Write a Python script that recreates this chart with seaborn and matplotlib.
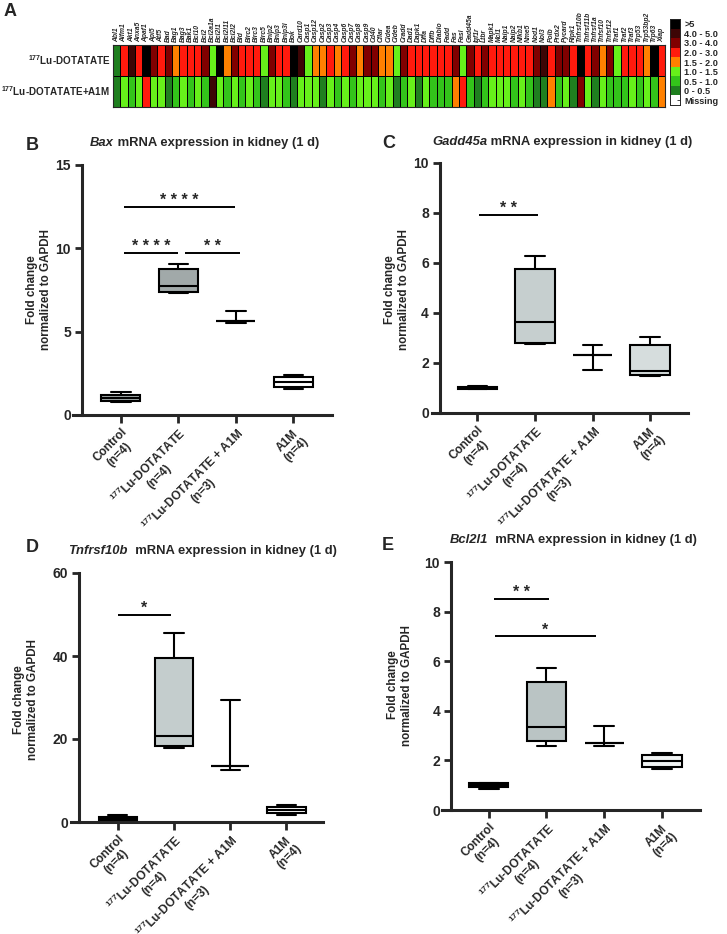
import numpy as np
import pandas as pd
import matplotlib
matplotlib.use("Agg")
import matplotlib.pyplot as plt
from matplotlib.colors import ListedColormap, BoundaryNorm
import seaborn as sns

sns.set_style("white")
plt.rcParams["font.family"] = ["Liberation Sans", "DejaVu Sans"]
plt.rcParams["font.weight"] = "bold"
plt.rcParams["mathtext.fontset"] = "custom"
plt.rcParams["mathtext.rm"] = "Liberation Sans:bold"
plt.rcParams["mathtext.bf"] = "Liberation Sans:bold"
plt.rcParams["mathtext.it"] = "Liberation Sans:bold:italic"

W, H = 727, 934

# ---------------- data: panel A heatmap (binned fold change) ----------------
genes = ["Abl1", "Aifm1", "Akt1", "Anxa5", "Apaf1", "Api5", "Atf5", "Bad", "Bag1", "Bag3",
         "Bak1", "Bcl10", "Bcl2", "Bcl2a1a", "Bcl2l1", "Bcl2l11", "Bcl2l2", "Bid", "Birc2", "Birc3",
         "Birc5", "Bnip2", "Bnip3", "Bnip3l", "Bok", "Card10", "Casp1", "Casp12", "Casp2", "Casp3",
         "Casp4", "Casp6", "Casp7", "Casp8", "Casp9", "Cd40", "Cflar", "Cidea", "Cideb", "Cradd",
         "Dad1", "Dapk1", "Dffa", "Dffb", "Diablo", "Fadd", "Fas", "Fasl", "Gadd45a", "Igf1r",
         "Ltbr", "Mapk1", "Mcl1", "Naip1", "Naip2", "Nfkb1", "Nme5", "Nod1", "Nol3", "Polb",
         "Prdx2", "Pycard", "Ripk1", "Tnfrsf10b", "Tnfrsf11b", "Tnfrsf1a", "Tnfsf10", "Tnfsf12", "Traf1", "Traf2",
         "Traf3", "Trp53", "Trp53bp2", "Trp63", "Xiap"]

lu_fold = [0.3, 2.5, 4.5, 2.5, 6.0, 3.5, 2.5, 3.5, 1.8, 2.5,
           2.5, 2.5, 3.5, 1.2, 6.0, 1.8, 3.5, 2.5, 2.5, 2.5,
           1.2, 3.5, 2.5, 2.5, 6.0, 4.5, 1.2, 1.8, 1.8, 2.5,
           1.8, 2.5, 3.5, 1.8, 3.5, 3.5, 1.8, 1.8, 1.2, 3.5,
           2.5, 2.5, 2.5, 2.5, 2.5, 2.5, 3.5, 1.2, 3.5, 2.5,
           3.5, 2.5, 2.5, 2.5, 2.5, 2.5, 2.5, 3.5, 4.5, 2.5,
           3.5, 3.5, 2.5, 6.0, 2.5, 3.5, 1.8, 3.5, 1.2, 2.5,
           2.5, 2.5, 1.8, 6.0, 2.5]

lu_a1m_fold = [0.3, 1.2, 0.8, 1.2, 2.5, 1.2, 1.2, 0.3, 0.8, 1.2,
               0.8, 1.2, 0.8, 4.5, 1.2, 0.8, 1.2, 0.8, 1.2, 0.8,
               0.3, 1.2, 1.2, 0.8, 0.3, 1.2, 1.2, 1.2, 0.3, 1.2,
               0.8, 1.2, 0.8, 1.2, 1.2, 1.2, 0.8, 1.2, 0.3, 0.8,
               1.2, 0.3, 1.2, 0.8, 0.8, 0.8, 1.8, 2.5, 0.8, 0.3,
               0.8, 1.2, 1.2, 1.2, 0.8, 1.2, 0.8, 0.3, 0.3, 1.8,
               0.8, 1.2, 0.3, 3.5, 1.2, 0.3, 1.2, 0.8, 0.8, 0.8,
               1.2, 0.8, 1.2, 0.8, 1.8]

row_labels = ["$^{177}$Lu-DOTATATE", "$^{177}$Lu-DOTATATE+A1M"]

bin_edges = [0, 0.5, 1.0, 1.5, 2.0, 3.0, 4.0, 5.0, 100]
bin_colors = ["#1f7f1f", "#33c41a", "#66f01a", "#ff8000", "#ff1a0d", "#800000", "#3d0505", "#000000"]
legend_labels = [">5", "4.0 - 5.0", "3.0 - 4.0", "2.0 - 3.0", "1.5 - 2.0",
                 "1.0 - 1.5", "0.5 - 1.0", "0 - 0.5", "Missing"]
legend_values = [6.0, 4.5, 3.5, 2.5, 1.8, 1.2, 0.8, 0.3, np.nan]

# ---------------- data: panels B-E, box summaries [min, q1, median, q3, max] ----------------
groups = ["Control\n(n=4)", "$^{177}$Lu-DOTATATE\n(n=4)",
          "$^{177}$Lu-DOTATATE + A1M\n(n=3)", "A1M\n(n=4)"]

bax_stats = [[0.80, 0.87, 1.05, 1.22, 1.38],
             [7.34, 7.40, 7.76, 8.74, 9.06],
             [5.52, 5.62, 5.62, 5.62, 6.22],
             [1.56, 1.66, 2.00, 2.30, 2.40]]
gadd_stats = [[0.97, 0.98, 1.00, 1.03, 1.10],
              [2.75, 2.82, 3.65, 5.75, 6.30],
              [1.71, 2.31, 2.31, 2.31, 2.74],
              [1.48, 1.54, 1.67, 2.74, 3.05]]
tnf_stats = [[0.4, 0.6, 0.9, 1.3, 1.8],
             [17.8, 18.4, 20.8, 39.5, 45.5],
             [12.6, 13.6, 13.6, 13.6, 29.3],
             [1.6, 2.2, 3.0, 3.5, 4.0]]
bcl_stats = [[0.83, 0.91, 0.99, 1.07, 1.10],
             [2.59, 2.78, 3.34, 5.15, 5.73],
             [2.59, 2.71, 2.71, 2.71, 3.38],
             [1.65, 1.745, 1.97, 2.20, 2.28]]

# significance bars: (from group, to group, height, stars)
bax_sig = [(0.05, 1.99, 12.5, "* * * *"), (0.05, 1.0, 9.74, "* * * *"), (1.12, 2.07, 9.74, "* *")]
gadd_sig = [(0.02, 1.05, 7.93, "* *")]
tnf_sig = [(0.0, 0.95, 49.8, "*")]
bcl_sig = [(0.09, 1.04, 8.52, "* *"), (0.1, 1.86, 7.0, "*")]

fig = plt.figure(figsize=(W / 100, H / 100), dpi=100)

# ---------------- panel A ----------------
heat = pd.DataFrame([lu_fold, lu_a1m_fold], index=row_labels, columns=genes)
cmap = ListedColormap(bin_colors)
norm = BoundaryNorm(bin_edges, cmap.N)

axh = fig.add_axes([113 / W, 1 - 107 / H, 552 / W, 62 / H])
sns.heatmap(heat, ax=axh, cmap=cmap, norm=norm, cbar=False,
            linewidths=0.5, linecolor="black",
            xticklabels=genes, yticklabels=row_labels)
axh.xaxis.tick_top()
axh.set_xticklabels(genes, rotation=90, fontsize=4.9, style="italic",
                    fontweight="bold", va="bottom", ha="center")
axh.set_yticklabels(row_labels, rotation=0, fontsize=7.1, fontweight="bold")
axh.tick_params(length=0, pad=2)
axh.set_xlabel("")
axh.set_ylabel("")
for s in axh.spines.values():
    s.set_visible(True)
    s.set_linewidth(0.8)

axl = fig.add_axes([670 / W, 1 - 105 / H, 10 / W, 86 / H])
leg = pd.DataFrame({"v": legend_values}, index=legend_labels)
sns.heatmap(leg, ax=axl, cmap=cmap, norm=norm, cbar=False,
            mask=leg.isna(), xticklabels=False, yticklabels=legend_labels)
axl.yaxis.tick_right()
axl.set_yticklabels(legend_labels, rotation=0, fontsize=6.6, fontweight="bold")
axl.tick_params(axis="y", length=2, width=0.6, direction="in", pad=3)
axl.set_ylabel("")
for s in axl.spines.values():
    s.set_visible(True)
    s.set_linewidth(0.7)

fig.text(4 / W, 1 - 11 / H, "A", fontsize=13, fontweight="bold", va="center")


# ---------------- panels B-E ----------------
def box_panel(rect, stats, palette, ylim, yticks, sig, spine_x, xlim,
              letter, letter_xy, gene, rest, title_xy, ylabel_xy):
    ax = fig.add_axes([rect[0] / W, 1 - rect[3] / H, (rect[2] - rect[0]) / W, (rect[3] - rect[1]) / H])
    rows = []
    for g, vals in zip(groups, stats):
        for v in vals:
            rows.append({"group": g, "value": v})
    df = pd.DataFrame(rows)
    sns.boxplot(data=df, x="group", y="value", hue="group", order=groups, hue_order=groups,
                palette=palette, legend=False, whis=(0, 100), width=0.68,
                linewidth=1.5, linecolor="black", fliersize=0, ax=ax)
    ax.set_xlim(*xlim)
    ax.set_ylim(*ylim)
    ax.set_yticks(yticks)
    ax.set_yticklabels([str(t) for t in yticks], fontsize=8.5, fontweight="bold")
    ax.set_xticks(range(len(groups)))
    ax.set_xticklabels(groups, rotation=45, ha="right", rotation_mode="anchor",
                       multialignment="center", fontsize=8.6, fontweight="bold",
                       linespacing=1.1)
    ax.set_xlabel("")
    ax.set_ylabel("Fold change\nnormalized to GAPDH", fontsize=8.4, fontweight="bold")
    ax.yaxis.set_label_coords(ylabel_xy[0] / W, 1 - ylabel_xy[1] / H, transform=fig.transFigure)
    sns.despine(ax=ax)
    ax.spines["left"].set_position(("data", spine_x))
    for s in ("left", "bottom"):
        ax.spines[s].set_linewidth(2.2)
    ax.tick_params(axis="y", direction="out", length=5, width=2, pad=3, left=True)
    ax.tick_params(axis="x", direction="out", length=6, width=2, pad=2, bottom=True)

    for x1, x2, y, lab in sig:
        ax.plot([x1, x2], [y, y], color="black", lw=1.4, solid_capstyle="butt")
        ax.annotate(lab, xy=((x1 + x2) / 2, y), xytext=(0, 1.5), textcoords="offset points",
                    ha="center", va="baseline", fontsize=11.5, fontweight="bold")

    fig.text(letter_xy[0] / W, 1 - letter_xy[1] / H, letter, fontsize=13,
             fontweight="bold", va="center", ha="left")
    t1 = fig.text(title_xy[0] / W, 1 - title_xy[1] / H, gene, fontsize=9.4,
                  fontweight="bold", style="italic", va="center", ha="left")
    ax.annotate(rest, xy=(1, 0.5), xycoords=t1, va="center", ha="left",
                fontsize=9.4, fontweight="bold", annotation_clip=False)
    return ax


box_panel((73, 165, 332, 415), bax_stats, ["#a3adad", "#9fabab", "#ffffff", "#ffffff"],
          (0, 15), [0, 5, 10, 15], bax_sig, -0.67, (-0.83, 3.67),
          "B", (26, 145), "Bax", " mRNA expression in kidney (1 d)", (90, 143), (52, 290))

box_panel((432, 163, 688, 413), gadd_stats, ["#c3cbcb", "#c5d0d0", "#ffffff", "#d5dede"],
          (0, 10), [0, 2, 4, 6, 8, 10], gadd_sig, -0.65, (-0.79, 3.66),
          "C", (382, 144), "Gadd45a", " mRNA expression in kidney (1 d)", (432, 142), (410, 290))

box_panel((71, 573, 323, 822), tnf_stats, ["#8c9696", "#c3cece", "#ffffff", "#ffffff"],
          (0, 60), [0, 20, 40, 60], tnf_sig, -0.68, (-0.83, 3.65),
          "D", (26, 547), "Tnfrsf10b", "  mRNA expression in kidney (1 d)", (68, 551), (39, 700))

box_panel((442, 562, 700, 810), bcl_stats, ["#c0c8c8", "#b8c6c6", "#ffffff", "#f0f3f3"],
          (0, 10), [0, 2, 4, 6, 8, 10], bcl_sig, -0.65, (-0.81, 3.66),
          "E", (382, 545), "Bcl2l1", "  mRNA expression in kidney (1 d)", (450, 540), (413, 685))

fig.savefig("out.png", dpi=100)
